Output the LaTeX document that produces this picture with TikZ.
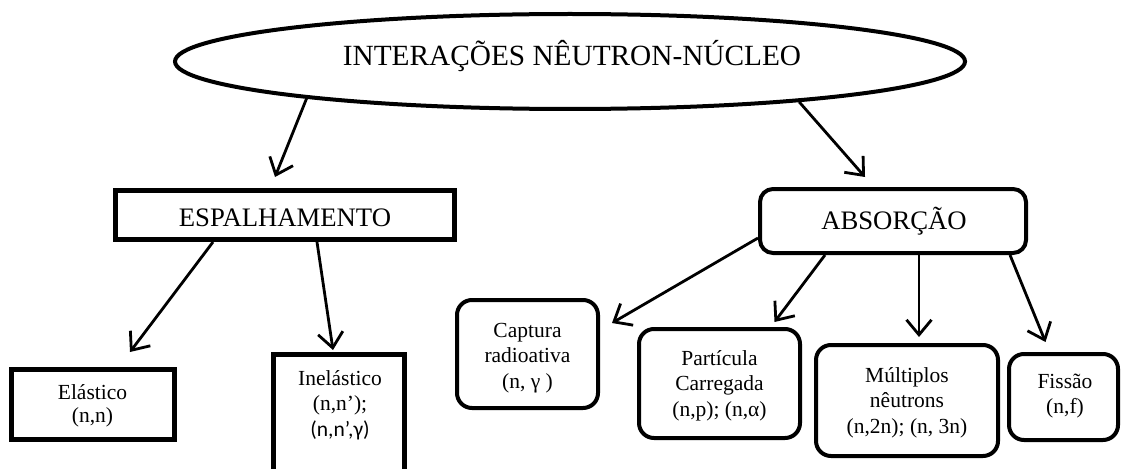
\documentclass[tikz,border=0pt]{standalone}
\usepackage{fontspec}
\setmainfont{Liberation Serif}
\newfontfamily\carlito{Carlito}
\usetikzlibrary{arrows.meta,shapes.geometric}
\newcommand\mylines[1]{\begin{tabular}[t]{@{}c@{}}#1\end{tabular}}
\begin{document}
\begin{tikzpicture}[x=1pt,y=-1pt,
  sqbox/.style={draw,line width=5pt,rectangle,inner sep=0pt},
  rbox/.style={draw,line width=4pt,rectangle,rounded corners=13pt,inner sep=0pt},
  bigtext/.style={font=\fontsize{26.7}{30}\selectfont,inner sep=0pt,anchor=base},
  smalltext/.style={font=\fontsize{21.5}{25.5}\selectfont,inner sep=0pt,anchor=base},
  arr/.style={line width=2.8pt,-{Straight Barb[length=15pt,width=25pt]}}]
\clip (0,0) rectangle (1123,468);
\fill[white] (0,0) rectangle (1123,468);
% title
\node[ellipse,draw,line width=4pt,minimum width=790pt,minimum height=95pt,inner sep=0pt] (title) at (570,61.5) {};
\node[font=\fontsize{29.3}{34}\selectfont,inner sep=0pt,anchor=base] (titletext) at (572,66) {INTERAÇÕES NÊUTRON-NÚCLEO};
% level 2
\node[sqbox,minimum width=339pt,minimum height=49pt] (esp) at (285,215) {};
\node[bigtext] (esptext) at (285,226) {ESPALHAMENTO};
\node[rbox,minimum width=266pt,minimum height=64pt] (abs) at (893,221) {};
\node[bigtext] (abstext) at (894,229) {ABSORÇÃO};
% level 3 left
\node[sqbox,minimum width=163pt,minimum height=70pt] (ela) at (93,404.5) {};
\node[smalltext,font=\fontsize{21.5}{23.5}\selectfont] (elatext) at (92.5,399) {\mylines{Elástico\\(n,n)}};
\node[sqbox,minimum width=131pt,minimum height=150pt] (inel) at (339,429.5) {};
\node[smalltext] (ineltext) at (340,385) {\mylines{Inelástico\\(n,n’);\\{\carlito (n,n’,γ)}}};
% level 3 right
\node[rbox,rounded corners=15pt,minimum width=141pt,minimum height=108pt] (cap) at (527.5,354) {};
\node[smalltext] (captext) at (527.5,337) {\mylines{Captura\\radioativa\\(n, γ )}};
\node[rbox,rounded corners=15pt,minimum width=161pt,minimum height=109pt] (par) at (719.5,383.5) {};
\node[smalltext] (partext) at (719.5,365) {\mylines{Partícula\\Carregada\\(n,p); (n,α)}};
\node[rbox,rounded corners=15pt,minimum width=182pt,minimum height=111pt] (mul) at (907,400.5) {};
\node[smalltext] (multext) at (907,382) {\mylines{Múltiplos\\nêutrons\\(n,2n); (n, 3n)}};
\node[rbox,rounded corners=15pt,minimum width=109pt,minimum height=86pt] (fis) at (1063.5,397) {};
\node[smalltext] (fistext) at (1065,388) {\mylines{Fissão\\(n,f)}};
% arrows
\draw[arr] (title.188.3) -- ([xshift=-10pt,yshift=11pt]esp.north);
\draw[arr] (title.350.1) -- ([xshift=-28pt,yshift=10pt]abs.north);
\draw[arr] ([xshift=-72pt]esp.south) -- ([xshift=37pt,yshift=15pt]ela.north);
\draw[arr] ([xshift=32pt]esp.south) -- ([xshift=-6pt,yshift=2pt]inel.north);
\draw[arr] ([yshift=-17pt]abs.west) -- ([xshift=12pt,yshift=31pt]cap.east);
\draw[arr] ([xshift=-68pt]abs.south) -- ([xshift=55pt,yshift=5pt]par.north);
\draw[arr] ([xshift=26pt]abs.south) -- ([xshift=12pt,yshift=6pt]mul.north);
\draw[arr] ([xshift=117pt]abs.south) -- ([xshift=-18pt,yshift=10pt]fis.north);
\end{tikzpicture}
\end{document}
